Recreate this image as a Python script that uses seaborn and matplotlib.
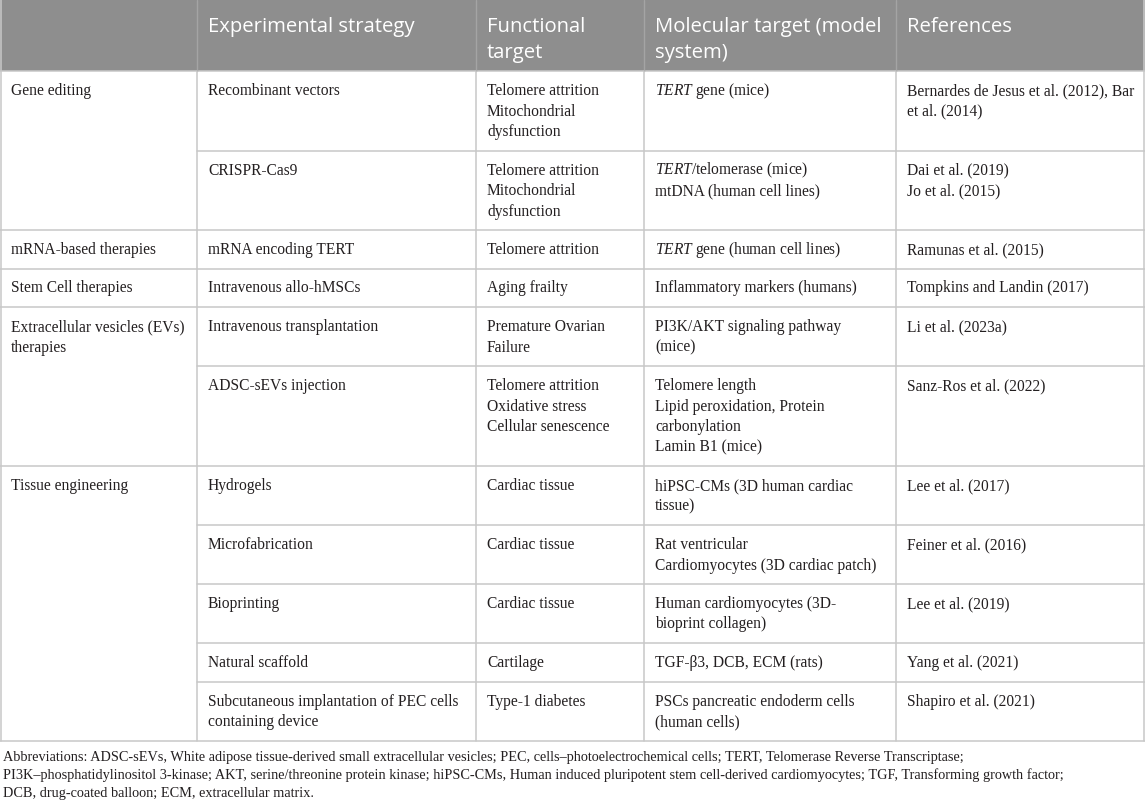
import matplotlib.pyplot as plt
import seaborn as sns

# table content
headers = ["", "Experimental strategy", "Functional\ntarget",
           "Molecular target (model\nsystem)", "References"]

groups = ["Gene editing", "mRNA-based therapies", "Stem Cell therapies",
          "Extracellular vesicles (EVs)\ntherapies", "Tissue engineering"]
group_sizes = [2, 1, 1, 2, 5]

strategies = ["Recombinant vectors", "CRISPR-Cas9", "mRNA encoding TERT",
              "Intravenous allo-hMSCs", "Intravenous transplantation",
              "ADSC-sEVs injection", "Hydrogels", "Microfabrication",
              "Bioprinting", "Natural scaffold",
              "Subcutaneous implantation of PEC cells\ncontaining device"]

functional = ["Telomere attrition\nMitochondrial\ndysfunction",
              "Telomere attrition\nMitochondrial\ndysfunction",
              "Telomere attrition", "Aging frailty",
              "Premature Ovarian\nFailure",
              "Telomere attrition\nOxidative stress\nCellular senescence",
              "Cardiac tissue", "Cardiac tissue", "Cardiac tissue",
              "Cartilage", "Type-1 diabetes"]

molecular = [r"$\mathit{TERT}$ gene (mice)",
             "$\\mathit{TERT}$/telomerase (mice)\nmtDNA (human cell lines)",
             r"$\mathit{TERT}$ gene (human cell lines)",
             "Inflammatory markers (humans)",
             "PI3K/AKT signaling pathway\n(mice)",
             "Telomere length\nLipid peroxidation, Protein\ncarbonylation\nLamin B1 (mice)",
             "hiPSC-CMs (3D human cardiac\ntissue)",
             "Rat ventricular\nCardiomyocytes (3D cardiac patch)",
             "Human cardiomyocytes (3D-\nbioprint collagen)",
             "TGF-β3, DCB, ECM (rats)",
             "PSCs pancreatic endoderm cells\n(human cells)"]

references = ["Bernardes de Jesus et al. (2012), Bar\net al. (2014)",
              "Dai et al. (2019)\nJo et al. (2015)",
              "Ramunas et al. (2015)", "Tompkins and Landin (2017)",
              "Li et al. (2023a)", "Sanz-Ros et al. (2022)",
              "Lee et al. (2017)", "Feiner et al. (2016)", "Lee et al. (2019)",
              "Yang et al. (2021)", "Shapiro et al. (2021)"]

footnote = [
    "Abbreviations: ADSC-sEVs, White adipose tissue-derived small extracellular vesicles; PEC, cells–photoelectrochemical cells; TERT, Telomerase Reverse Transcriptase;",
    "PI3K–phosphatidylinositol 3-kinase; AKT, serine/threonine protein kinase; hiPSC-CMs, Human induced pluripotent stem cell-derived cardiomyocytes; TGF, Transforming growth factor;",
    "DCB, drug-coated balloon; ECM, extracellular matrix.",
]

# style
sns.set_theme(style="white")
plt.rcParams['font.family'] = ['Liberation Serif', 'DejaVu Serif']
plt.rcParams['mathtext.fontset'] = 'custom'
plt.rcParams['mathtext.rm'] = 'Liberation Serif'
plt.rcParams['mathtext.it'] = 'Liberation Serif:italic'

W, H = 1145, 809
col_edges = [0, 197, 476, 644, 896, 1145]
header_h = 71
line_h = 20.5
pad = 9
text_dx = 11
body_size = 11.2
grid_color = "#c8c8c8"
header_color = "#8e8e8e"
text_color = "#231f20"

fig = plt.figure(figsize=(W / 100, H / 100), dpi=100)
ax = fig.add_axes([0, 0, 1, 1])
ax.set_xlim(0, W)
ax.set_ylim(H, 0)
ax.axis("off")
renderer = fig.canvas.get_renderer()


def fit_size(s, width_px, base, **kw):
    # font size that makes a line of text the given pixel width
    t = ax.text(0, 0, s, fontsize=base, **kw)
    w = t.get_window_extent(renderer).width
    t.remove()
    return base * width_px / w


header_size = fit_size("Experimental strategy", 207, 14, family="Open Sans")
foot_size = fit_size(footnote[1], 1059, 10)

# header
ax.add_patch(plt.Rectangle((0, 0), W, header_h, color=header_color, lw=0))
for c, h in enumerate(headers):
    for i, ln in enumerate(h.split("\n")):
        ax.text(col_edges[c] + text_dx, 32 + i * 25.5, ln, color="white",
                family="Open Sans", fontsize=header_size, va="baseline", ha="left")


def nlines(s):
    return len(s.split("\n"))


def draw_cell(col, top, s):
    for i, ln in enumerate(s.split("\n")):
        ax.text(col_edges[col] + text_dx, top + 24 + i * line_h, ln,
                fontsize=body_size, color=text_color, va="baseline", ha="left")


# body rows
columns = [strategies, functional, molecular, references]
y = header_h
row = 0
for g, size in zip(groups, group_sizes):
    g_top = y
    for k in range(size):
        n = max(nlines(col[row]) for col in columns)
        if size == 1:
            n = max(n, nlines(g))
        h = 2 * pad + n * line_h
        for c, col in enumerate(columns):
            draw_cell(c + 1, y, col[row])
        y += h
        row += 1
        if k < size - 1:
            ax.plot([col_edges[1], W], [y, y], color=grid_color, lw=1.1)
    draw_cell(0, g_top, g)
    ax.plot([0, W], [y, y], color=grid_color, lw=1.1)

table_bottom = y
ax.plot([0, W], [header_h, header_h], color=grid_color, lw=1.1)
for x in col_edges[1:-1]:
    ax.plot([x, x], [0, header_h], color="#a4a4a4", lw=1.0)
    ax.plot([x, x], [header_h, table_bottom], color=grid_color, lw=1.1)
ax.plot([0.6, 0.6], [0, table_bottom], color=grid_color, lw=1.1)
ax.plot([W - 0.8, W - 0.8], [0, table_bottom], color=grid_color, lw=1.1)

# footnote
for i, ln in enumerate(footnote):
    ax.text(3, table_bottom + 21 + i * 17.5, ln, fontsize=foot_size,
            color=text_color, va="baseline", ha="left")

fig.savefig("out.png", dpi=100)
